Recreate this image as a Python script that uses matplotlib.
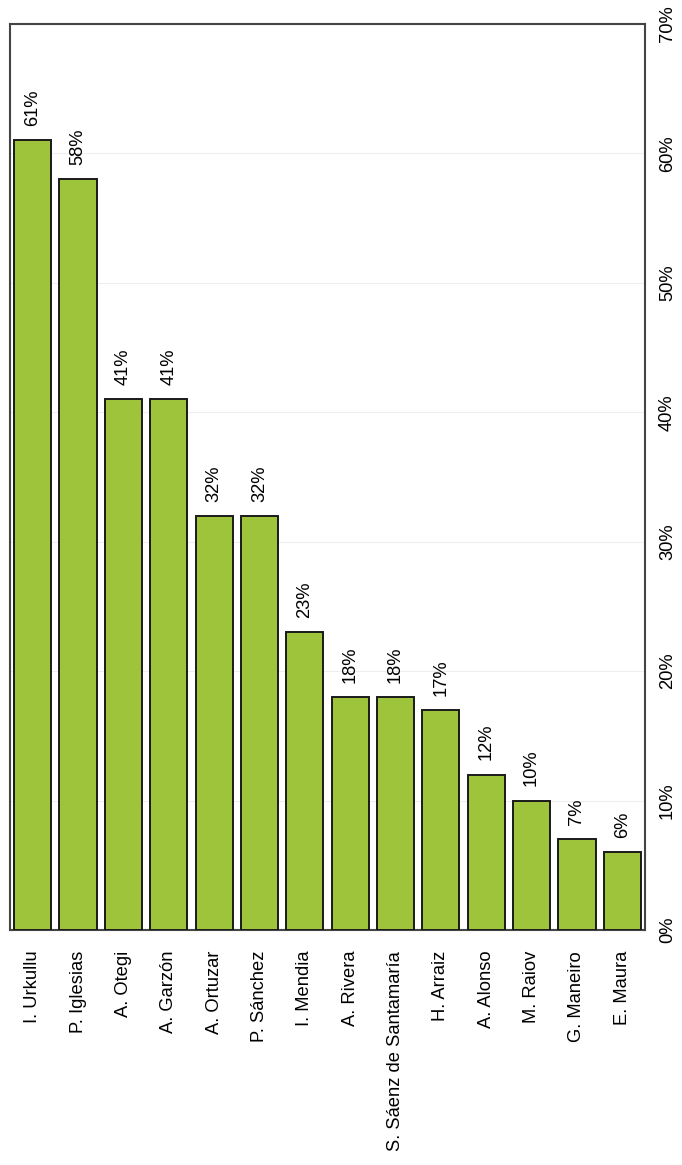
import matplotlib.pyplot as plt
import numpy as np

plt.rcParams['font.family'] = ['Liberation Sans', 'DejaVu Sans']

nombres = ['I. Urkullu', 'P. Iglesias', 'A. Otegi', 'A. Garzón', 'A. Ortuzar',
           'P. Sánchez', 'I. Mendia', 'A. Rivera', 'S. Sáenz de Santamaría',
           'H. Arraiz', 'A. Alonso', 'M. Raiov', 'G. Maneiro', 'E. Maura']
valores = [61, 58, 41, 41, 32, 32, 23, 18, 18, 17, 12, 10, 7, 6]
ticks = [0, 10, 20, 30, 40, 50, 60, 70]

fig = plt.figure(figsize=(6.82, 11.65), dpi=100)
ax = fig.add_axes([0.0147, 0.2017, 0.931, 0.7777])

x = np.arange(len(nombres))
ax.bar(x, valores, width=0.82, color='#9DC43A', edgecolor='#1a1a1a', linewidth=1.4, zorder=3)

for xi, v in zip(x, valores):
    ax.text(xi, v + 1.1, '%d%%' % v, rotation=90, ha='center', va='bottom', fontsize=13.2)

ax.set_xlim(-0.5, len(nombres) - 0.5)
ax.set_ylim(0, 70)
ax.set_yticks(ticks)
ax.set_yticklabels(['%d%%' % t for t in ticks], rotation=90, va='center', fontsize=13.2)
ax.yaxis.tick_right()
ax.tick_params(axis='y', length=0, pad=10)
ax.set_xticks(x)
ax.set_xticklabels(nombres, rotation=90, ha='center', va='top', fontsize=13.2)
ax.tick_params(axis='x', length=0, pad=15)
ax.grid(axis='y', color='#eeeeee', linewidth=0.8, zorder=0)
for s in ax.spines.values():
    s.set_color('#444444')
    s.set_linewidth(1.5)

fig.savefig('out.png', dpi=100)
